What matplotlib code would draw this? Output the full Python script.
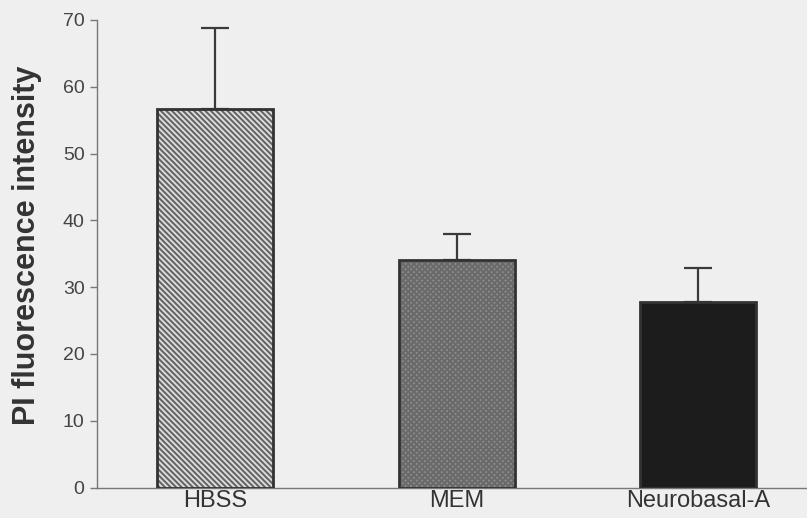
import matplotlib.pyplot as plt
import numpy as np

plt.rcParams['font.family'] = ['Liberation Sans', 'DejaVu Sans']
plt.rcParams['hatch.linewidth'] = 1.5

media = ['HBSS', 'MEM', 'Neurobasal-A']
intensity = [56.6, 34.1, 27.8]
sem = [12.2, 3.9, 5.0]

fig = plt.figure(figsize=(8.07, 5.18), dpi=100, facecolor='#efefef')
ax = fig.add_axes([97 / 807, 30.5 / 518, 1 - 97 / 807, 467.5 / 518])
ax.set_facecolor('#efefef')

x = np.arange(len(media))
face = ['#e0e0e0', '#8e8e8e', '#1c1c1c']
hatch = ['\\' * 6, 'xxxxxx', None]
hatch_col = ['#666666', '#6a6a6a', '#1c1c1c']

for i in range(len(media)):
    ax.errorbar(x[i], intensity[i], yerr=[[0], [sem[i]]], fmt='none',
                ecolor='#3a3a3a', elinewidth=1.6, capsize=10, capthick=1.6, zorder=1)
    ax.bar(x[i], intensity[i], width=0.48, color=face[i],
           edgecolor=hatch_col[i], hatch=hatch[i], linewidth=0, zorder=2)
    # outline drawn separately so the hatch colour can differ
    ax.bar(x[i], intensity[i], width=0.48, fill=False,
           edgecolor='#333333', linewidth=2, zorder=3)

ax.set_xlim(-0.49, 2.45)
ax.set_ylim(0, 70)
ax.set_yticks(range(0, 71, 10))
ax.set_xticks(x)
ax.set_xticklabels(media, fontsize=17, color='#333333')
ax.tick_params(axis='x', length=0, pad=2)
ax.tick_params(axis='y', length=5, width=1, color='#777777', labelsize=14,
               labelcolor='#444444', pad=4)
ax.set_ylabel('PI fluorescence intensity', fontsize=22, fontweight='bold',
              color='#333333')
ax.yaxis.set_label_coords(-0.078, 0.519)

for s in ['top', 'right']:
    ax.spines[s].set_visible(False)
for s in ['left', 'bottom']:
    ax.spines[s].set_color('#777777')
    ax.spines[s].set_linewidth(1)

fig.savefig('out.png', dpi=100, facecolor=fig.get_facecolor())
